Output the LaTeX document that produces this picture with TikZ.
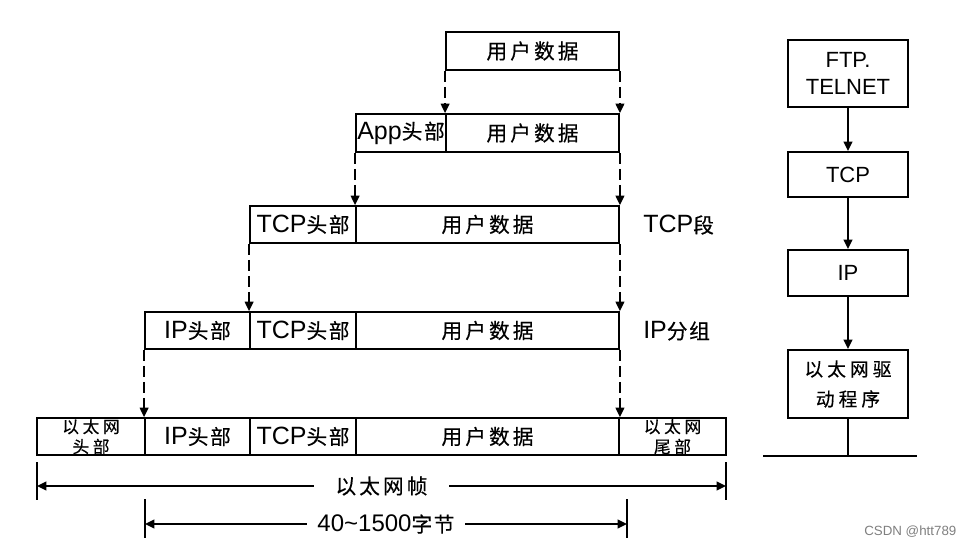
\documentclass[tikz,border=0pt]{standalone}
\usepackage{fontspec}
\setmainfont{Liberation Sans}
\newfontfamily\cjk[LetterSpace=15,FakeBold=0.4]{Noto Sans CJK SC}
\newfontfamily\cjkh[LetterSpace=8,FakeBold=0.4]{Noto Sans CJK SC}
\newfontfamily\cjkr[LetterSpace=22,FakeBold=0.4]{Noto Sans CJK SC}
\usetikzlibrary{arrows.meta}
\newcommand\zh[1]{{\fontsize{15.5}{16}\selectfont\cjk #1}}
\newcommand\zhh[1]{{\fontsize{15.5}{16}\selectfont\cjkh #1}}
\newcommand\zhr[1]{{\fontsize{14}{22.5}\selectfont\cjkr #1}}
\tikzset{
  bw/.style={minimum width=#1*0.75pt},
  bh/.style={minimum height=#1*0.75pt},
  cell/.style={draw, line width=1.4pt, inner sep=0pt, align=center,
    font=\fontsize{18.75}{20}\selectfont},
  celltext/.style={inner sep=0pt, align=center,
    font=\fontsize{12.5}{15}\selectfont\cjkr},
  rbox/.style={draw, line width=1.4pt, inner sep=0pt, align=center,
    font=\fontsize{16.5}{20}\selectfont},
  tip/.style={-{Triangle[length=7pt,width=6.5pt]}},
  dtip/.style={{Triangle[length=7pt,width=6.5pt]}-{Triangle[length=7pt,width=6.5pt]}},
  dasharr/.style={tip, line width=1.2pt, dash pattern=on 8pt off 4pt},
  solidarr/.style={tip, line width=1.4pt},
  plain/.style={line width=1.4pt},
  lbl/.style={anchor=west, inner sep=0pt, font=\fontsize{18.75}{20}\selectfont},
}
\begin{document}
\begin{tikzpicture}[x=0.75pt,y=-0.75pt]
\path[use as bounding box, fill=white] (0,0) rectangle (958,546);

% Row 1
\node (r1d) [cell, bw=173, bh=38] at (532.5,51) {\zh{用户数据}};
% Row 2
\node (r2a) [cell, bw=90, bh=38] at (401,133) {App\zhh{头部}};
\node (r2d) [cell, bw=173, bh=38] at (532.5,133) {\zh{用户数据}};
% Row 3
\node (r3t) [cell, bw=106, bh=37] at (303,224.5) {TCP\zhh{头部}};
\node (r3d) [cell, bw=263, bh=37] at (487.5,224.5) {\zh{用户数据}};
\node (l3) [lbl] at (643,225) {TCP\zhh{段}};
% Row 4
\node (r4i) [cell, bw=105, bh=37] at (197.5,330.5) {IP\zhh{头部}};
\node (r4t) [cell, bw=106, bh=37] at (303,330.5) {TCP\zhh{头部}};
\node (r4d) [cell, bw=263, bh=37] at (487.5,330.5) {\zh{用户数据}};
\node (l4) [lbl] at (643,331) {IP\zhh{分组}};
% Row 5
\node (r5e) [cell, bw=108, bh=37] at (91,436.5) {};
\node (r5et) [celltext] at (r5e.center) {以太网\\头部};
\node (r5i) [cell, bw=105, bh=37] at (197.5,436.5) {IP\zhh{头部}};
\node (r5t) [cell, bw=106, bh=37] at (303,436.5) {TCP\zhh{头部}};
\node (r5d) [cell, bw=263, bh=37] at (487.5,436.5) {\zh{用户数据}};
\node (r5f) [cell, bw=107, bh=37] at (672.5,436.5) {};
\node (r5ft) [celltext] at (r5f.center) {以太网\\尾部};

% dashed arrows
\draw[dasharr] (r1d.south west) -- (r2d.north west);
\draw[dasharr] (r1d.south east) -- (r2d.north east);
\draw[dasharr] (r2a.south west) -- (r3d.north west);
\draw[dasharr] (r2d.south east) -- (r3d.north east);
\draw[dasharr] (r3t.south west) -- (r4t.north west);
\draw[dasharr] (r3d.south east) -- (r4d.north east);
\draw[dasharr] (r4i.south west) -- (r5i.north west);
\draw[dasharr] (r4d.south east) -- (r5d.north east);

% dimension lines
\coordinate (L1t) at (37,462); \coordinate (L1b) at (37,500);
\coordinate (R1t) at (726,462); \coordinate (R1b) at (726,500);
\coordinate (A1l) at (37,486); \coordinate (A1r) at (726,486);
\draw[plain] (L1t) -- (L1b);
\draw[plain] (R1t) -- (R1b);
\draw[dtip, line width=1.4pt] (A1l) -- node (t1) [fill=white, inner xsep=16pt, inner ysep=2pt] {\zh{以太网帧}} (A1r);

\coordinate (L2t) at (145,499); \coordinate (L2b) at (145,538);
\coordinate (R2t) at (627,499); \coordinate (R2b) at (627,538);
\coordinate (A2l) at (145,524); \coordinate (A2r) at (627,524);
\draw[plain] (L2t) -- (L2b);
\draw[plain] (R2t) -- (R2b);
\draw[dtip, line width=1.4pt] (A2l) -- node (t2) [fill=white, inner xsep=8pt, inner ysep=1pt, font=\fontsize{18}{20}\selectfont] {40\textasciitilde1500\zhh{字节}} (A2r);

% right stack
\node (b1) [rbox, bw=120, bh=67] at (848,73.5) {FTP.\\TELNET};
\node (b2) [rbox, bw=120, bh=45] at (848,174.5) {TCP};
\node (b3) [rbox, bw=120, bh=46] at (848,273) {IP};
\node (b4) [rbox, bw=120, bh=68, font=\fontsize{14}{22.5}\selectfont\cjkr] at (848,384) {以太网驱\\动程序};
\draw[solidarr] (b1) -- (b2);
\draw[solidarr] (b2) -- (b3);
\draw[solidarr] (b3) -- (b4);
\coordinate (bus) at (848,456);
\coordinate (busl) at (763,456);
\coordinate (busr) at (917,456);
\draw[plain] (b4) -- (bus);
\draw[plain] (busl) -- (busr);

\node (wm) [anchor=west, text=gray, inner sep=0pt, font=\fontsize{10}{12}\selectfont] at (864,532) {CSDN @htt789};
\end{tikzpicture}
\end{document}
